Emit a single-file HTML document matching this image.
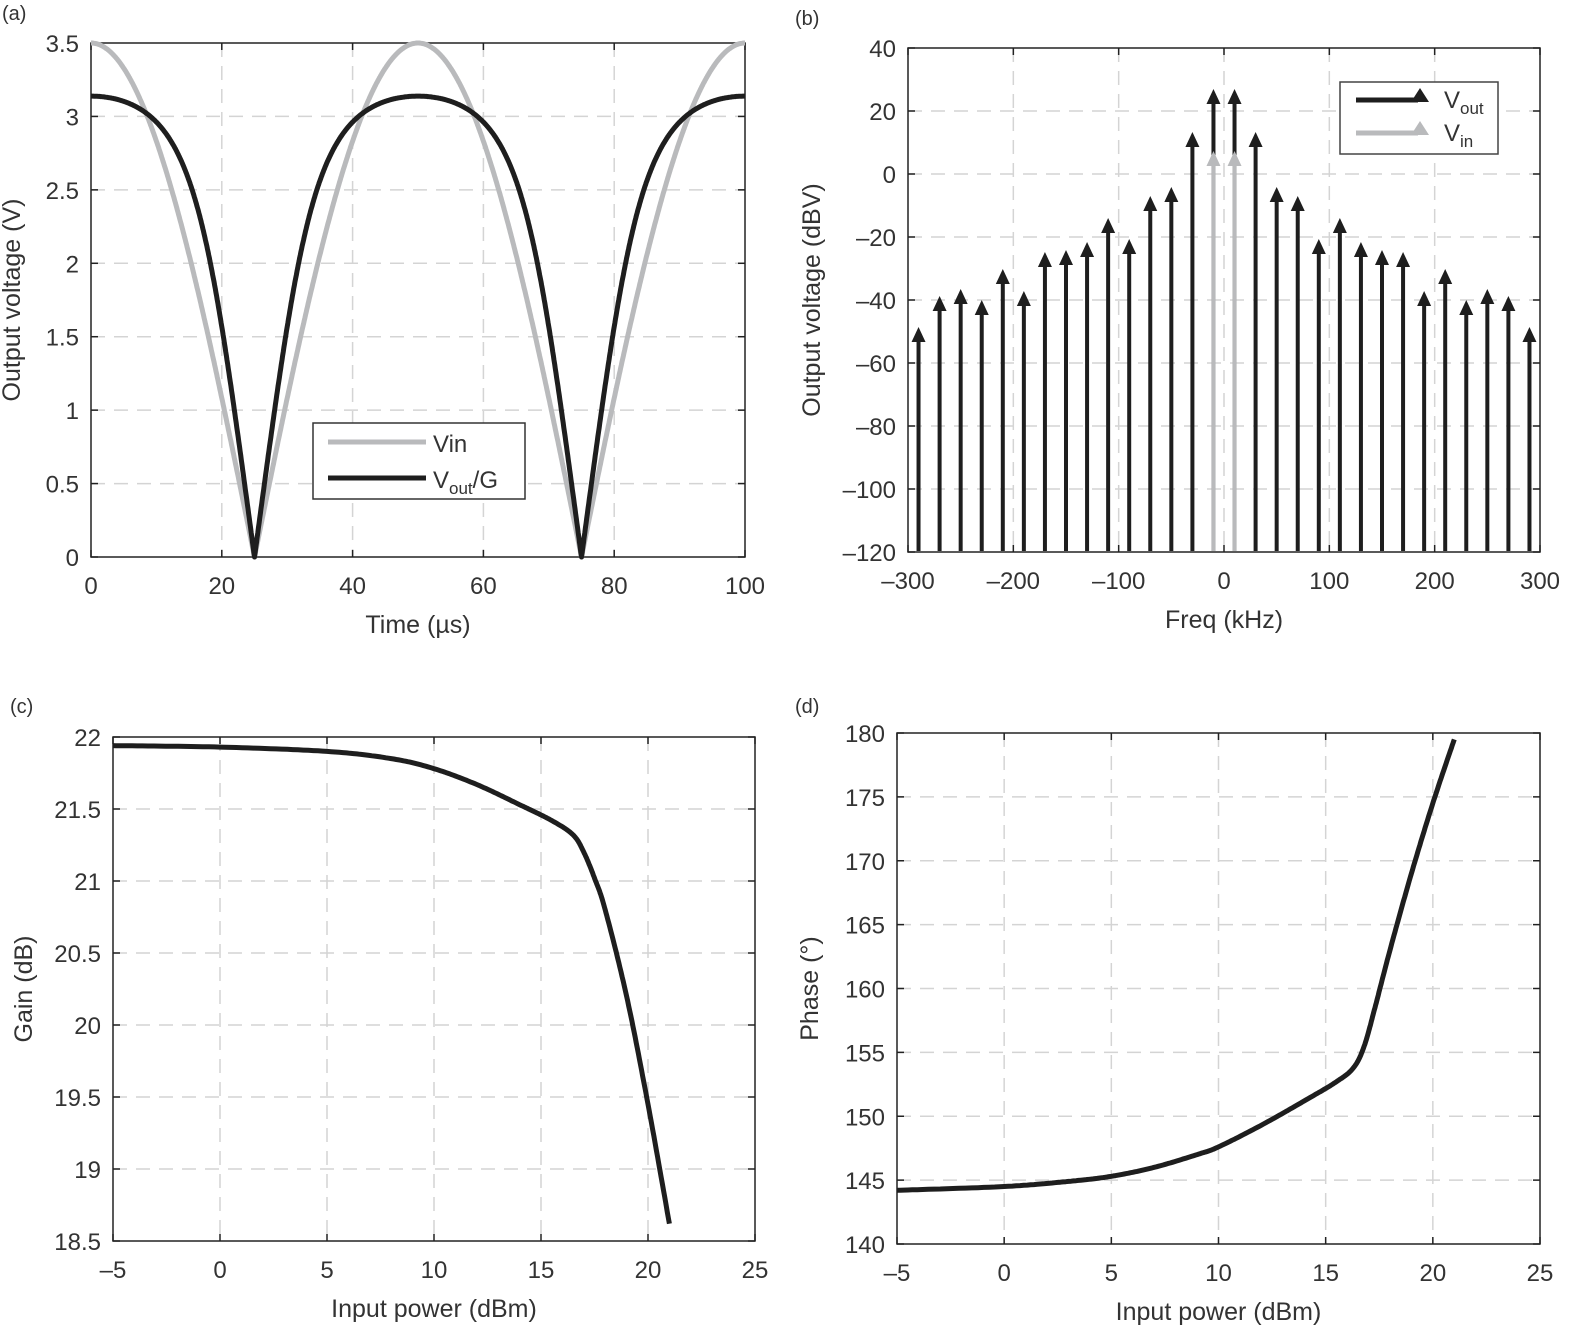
<!DOCTYPE html>
<html><head><meta charset="utf-8"><style>
body{margin:0;background:#fff}
svg{display:block}
text{font-family:"Liberation Sans",sans-serif;fill:#333}
</style></head><body>
<svg id="s" width="1579" height="1334" viewBox="0 0 1579 1334" xmlns="http://www.w3.org/2000/svg">
<text x="2" y="20" font-size="20">(a)</text>
<text x="795" y="25" font-size="20">(b)</text>
<text x="10" y="713" font-size="20">(c)</text>
<text x="795" y="713" font-size="20">(d)</text>
</svg>
<script>
const S=document.getElementById('s');const NS='http://www.w3.org/2000/svg';
function el(t,a,txt){const e=document.createElementNS(NS,t);for(const k in a)e.setAttribute(k,a[k]);if(txt!==undefined)e.textContent=txt;S.appendChild(e);return e;}
function axes(o){
 const {x0,x1,y0,y1,xmin,xmax,ymin,ymax,xt,yt,xl,yl,xlab,ylab}=o;
 const X=v=>x0+(v-xmin)/(xmax-xmin)*(x1-x0), Y=v=>y1-(v-ymin)/(ymax-ymin)*(y1-y0);
 xt.forEach(v=>{if(v>xmin&&v<xmax)el('line',{x1:X(v),x2:X(v),y1:y0,y2:y1,stroke:'#d4d4d4','stroke-width':1.5,'stroke-dasharray':'14,9'})});
 yt.forEach(v=>{if(v>ymin&&v<ymax)el('line',{x1:x0,x2:x1,y1:Y(v),y2:Y(v),stroke:'#d4d4d4','stroke-width':1.5,'stroke-dasharray':'14,9'})});
 xt.forEach((v,i)=>{el('line',{x1:X(v),x2:X(v),y1:y1,y2:y1-7,stroke:'#222','stroke-width':1.5});el('line',{x1:X(v),x2:X(v),y1:y0,y2:y0+7,stroke:'#222','stroke-width':1.5});el('text',{x:X(v),y:y1+37,'text-anchor':'middle','font-size':24},xl[i]);});
 yt.forEach((v,i)=>{el('line',{x1:x0,x2:x0+7,y1:Y(v),y2:Y(v),stroke:'#222','stroke-width':1.5});el('line',{x1:x1,x2:x1-7,y1:Y(v),y2:Y(v),stroke:'#222','stroke-width':1.5});el('text',{x:x0-12,y:Y(v)+9,'text-anchor':'end','font-size':24},yl[i]);});
 el('rect',{x:x0,y:y0,width:x1-x0,height:y1-y0,fill:'none',stroke:'#222','stroke-width':1.5});
 el('text',{x:(x0+x1)/2,y:y1+76,'text-anchor':'middle','font-size':25},xlab);
 const lx=o.ylx;el('text',{x:lx,y:(y0+y1)/2,'text-anchor':'middle','font-size':25,transform:`rotate(-90 ${lx} ${(y0+y1)/2})`},ylab);
 return [X,Y];
}
function path(pts,c,w){el('path',{d:'M'+pts.map(p=>p[0].toFixed(1)+','+p[1].toFixed(1)).join('L'),fill:'none',stroke:c,'stroke-width':w,'stroke-linejoin':'round'});}
function smooth(p){const out=[];for(let i=0;i<p.length-1;i++){const p0=p[Math.max(i-1,0)],p1=p[i],p2=p[i+1],p3=p[Math.min(i+2,p.length-1)];for(let k=0;k<20;k++){const t=k/20,t2=t*t,t3=t2*t;const f=j=>0.5*((2*p1[j])+(-p0[j]+p2[j])*t+(2*p0[j]-5*p1[j]+4*p2[j]-p3[j])*t2+(-p0[j]+3*p1[j]-3*p2[j]+p3[j])*t3);out.push([f(0),f(1)]);}}out.push(p[p.length-1]);return out;}
// (a)
let [X,Y]=axes({x0:91,x1:745,y0:43,y1:557,xmin:0,xmax:100,ymin:0,ymax:3.5,xt:[0,20,40,60,80,100],xl:['0','20','40','60','80','100'],yt:[0,0.5,1,1.5,2,2.5,3,3.5],yl:['0','0.5','1','1.5','2','2.5','3','3.5'],xlab:'Time (µs)',ylab:'Output voltage (V)',ylx:20});
let a=[],b=[];
for(let t=0;t<=100;t+=0.1){const vi=3.5*Math.abs(Math.cos(Math.PI*t/50));a.push([X(t),Y(vi)]);const g=1.5,L=3.4,n=3,u=g*vi;b.push([X(t),Y(u/Math.pow(1+Math.pow(u/L,n),1/n))]);}
path(a,'#b9babc',5);path(b,'#1e1e1e',5);
el('rect',{x:313,y:423,width:212,height:76,fill:'#fff',stroke:'#333','stroke-width':1.5});
el('line',{x1:328,x2:426,y1:442,y2:442,stroke:'#b9babc','stroke-width':5});
el('line',{x1:328,x2:426,y1:478,y2:478,stroke:'#1e1e1e','stroke-width':5});
el('text',{x:433,y:452,'font-size':24},'Vin');
const tv=el('text',{x:433,y:488,'font-size':24},'V');const ts=document.createElementNS(NS,'tspan');ts.setAttribute('font-size',17);ts.setAttribute('dy',6);ts.textContent='out';tv.appendChild(ts);const ts2=document.createElementNS(NS,'tspan');ts2.setAttribute('dy',-6);ts2.textContent='/G';tv.appendChild(ts2);
// (b)
[X,Y]=axes({x0:908,x1:1540,y0:48,y1:552,xmin:-300,xmax:300,ymin:-120,ymax:40,xt:[-300,-200,-100,0,100,200,300],xl:['–300','–200','–100','0','100','200','300'],yt:[-120,-100,-80,-60,-40,-20,0,20,40],yl:['–120','–100','–80','–60','–40','–20','0','20','40'],xlab:'Freq (kHz)',ylab:'Output voltage (dBV)',ylx:820});
const tips=[327,296,289,300,269,291,252,250,242,218,239,196,187,132,89];
const all=tips.concat(tips.slice().reverse());
function arrow(x,ty,c){el('line',{x1:x,x2:x,y1:551,y2:ty+12,stroke:c,'stroke-width':4});el('polygon',{points:`${x-7},${ty+15} ${x+7},${ty+15} ${x},${ty}`,fill:c});}
all.forEach((ty,i)=>{const f=-290+20*i;arrow(X(f),ty,'#1e1e1e');});
arrow(X(-10),151,'#b9babc');arrow(X(10),151,'#b9babc');
el('rect',{x:1340,y:82,width:158,height:72,fill:'#fff',stroke:'#444','stroke-width':1.5});
el('line',{x1:1356,x2:1418,y1:100,y2:100,stroke:'#1e1e1e','stroke-width':5});el('polygon',{points:'1411,102 1429,102 1420,88',fill:'#1e1e1e'});
el('line',{x1:1356,x2:1418,y1:133,y2:133,stroke:'#b9babc','stroke-width':5});el('polygon',{points:'1411,135 1429,135 1420,121',fill:'#b9babc'});
let t1=el('text',{x:1444,y:108,'font-size':24},'V');let q=document.createElementNS(NS,'tspan');q.setAttribute('font-size',17);q.setAttribute('dy',6);q.textContent='out';t1.appendChild(q);
let t2=el('text',{x:1444,y:141,'font-size':24},'V');q=document.createElementNS(NS,'tspan');q.setAttribute('font-size',17);q.setAttribute('dy',6);q.textContent='in';t2.appendChild(q);
// (c)
[X,Y]=axes({x0:113,x1:755,y0:737,y1:1241,xmin:-5,xmax:25,ymin:18.5,ymax:22,xt:[-5,0,5,10,15,20,25],xl:['–5','0','5','10','15','20','25'],yt:[18.5,19,19.5,20,20.5,21,21.5,22],yl:['18.5','19','19.5','20','20.5','21','21.5','22'],xlab:'Input power (dBm)',ylab:'Gain (dB)',ylx:32});
const cp=[[-5,21.94],[0,21.93],[5,21.9],[8,21.85],[10,21.78],[12,21.67],[14,21.53],[15.5,21.42],[16.5,21.32],[17,21.2],[17.5,21.02],[18,20.8],[19,20.2],[20,19.45],[21,18.62]];
path(smooth(cp.map(p=>[X(p[0]),Y(p[1])])),'#1e1e1e',5);
// (d)
[X,Y]=axes({x0:897,x1:1540,y0:733,y1:1244,xmin:-5,xmax:25,ymin:140,ymax:180,xt:[-5,0,5,10,15,20,25],xl:['–5','0','5','10','15','20','25'],yt:[140,145,150,155,160,165,170,175,180],yl:['140','145','150','155','160','165','170','175','180'],xlab:'Input power (dBm)',ylab:'Phase (°)',ylx:818});
const dp=[[-5,144.2],[0,144.5],[3,144.9],[5,145.3],[7,146],[9,147],[10,147.6],[12,149.3],[14,151.2],[15.5,152.7],[16.3,153.8],[16.8,155.5],[17.3,158.5],[18,163],[19,169],[20,174.5],[21,179.5]];
path(smooth(dp.map(p=>[X(p[0]),Y(p[1])])),'#1e1e1e',5);
</script>
</body></html>
